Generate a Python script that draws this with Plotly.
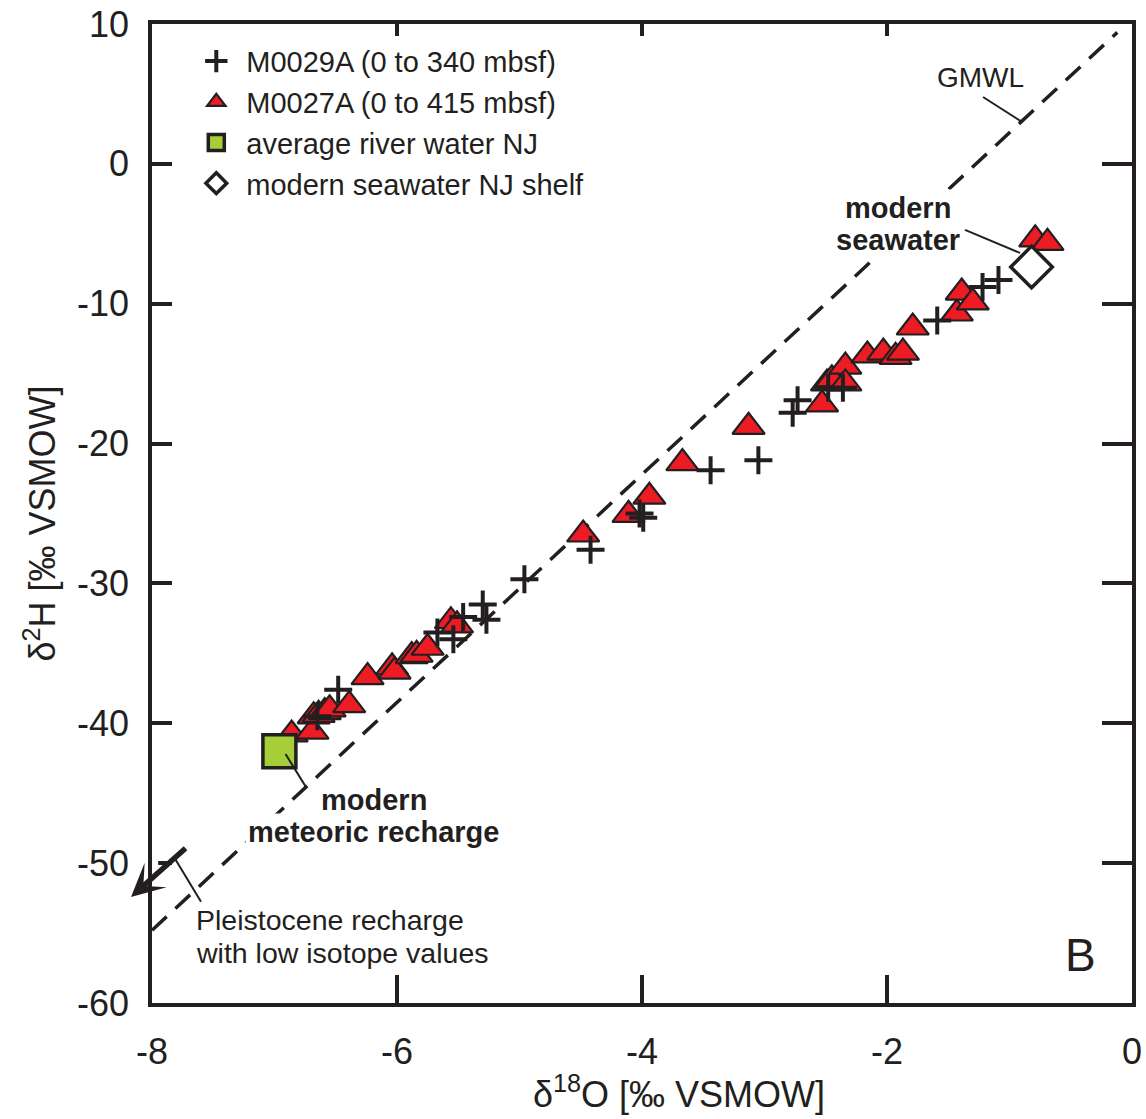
import plotly.graph_objects as go

# --- data -------------------------------------------------------------
# M0029A pore waters (crosses)
m29_d18o = [-6.65, -6.48, -5.67, -5.54, -5.46, -5.30, -5.27, -4.96, -4.42, -4.02,
            -3.99, -3.44, -3.05, -2.77, -2.73, -2.48, -2.36, -1.59, -1.22, -1.09]
m29_d2h = [-39.5, -37.6, -33.5, -34.0, -32.4, -31.5, -32.6, -29.7, -27.6, -25.0,
           -25.3, -21.9, -21.2, -17.8, -16.9, -16.0, -16.0, -11.2, -8.8, -8.3]

# M0027A pore waters (triangles)
m27_d18o = [-6.86, -6.69, -6.68, -6.64, -6.59, -6.55, -6.39, -6.24, -6.04, -6.02,
            -5.88, -5.84, -5.75, -5.56, -5.51, -4.48, -4.11, -3.94, -3.67, -3.13,
            -2.53, -2.49, -2.45, -2.34, -2.34, -2.16, -2.03, -1.93, -1.87, -1.79,
            -1.43, -1.39, -1.30, -0.79, -0.69]
m27_d2h = [-40.8, -40.6, -39.5, -39.4, -39.2, -39.0, -38.7, -36.7, -36.0, -36.3,
           -35.2, -35.1, -34.6, -32.7, -33.0, -26.5, -25.1, -23.8, -21.4, -18.8,
           -17.2, -15.7, -15.4, -14.5, -15.7, -13.7, -13.5, -13.8, -13.5, -11.7,
           -10.7, -9.2, -9.9, -5.4, -5.65]

# end members
river_d18o = [-6.96]
river_d2h = [-42.0]
sea_d18o = [-0.82]
sea_d2h = [-7.37]

# global meteoric water line
gmwl_d18o = [-8.0, -0.12]
gmwl_d2h = [-54.8, 9.4]

x_ticks = [-8, -6, -4, -2, 0]
x_ticktext = ["-8", "-6", "-4", "-2", "0"]
y_ticks = [10, 0, -10, -20, -30, -40, -50, -60]
y_ticktext = ["10", "0", "-10", "-20", "-30", "-40", "-50", "-60"]

# --- styling ----------------------------------------------------------
INK = "#231F20"
FONT = "Liberation Sans, Arial, Helvetica, sans-serif"

fig = go.Figure()

fig.add_trace(go.Scatter(
    x=gmwl_d18o, y=gmwl_d2h, mode="lines",
    line=dict(color=INK, width=3.5, dash="20px,12px"),
    showlegend=False, hoverinfo="skip"))

fig.add_trace(go.Scatter(
    x=m27_d18o, y=m27_d2h, mode="markers", name="M0027A (0 to 415 mbsf)",
    marker=dict(symbol="triangle-up", size=28, color="#ED1C24",
                line=dict(color=INK, width=2.2)),
    legendrank=2))

fig.add_trace(go.Scatter(
    x=m29_d18o, y=m29_d2h, mode="markers", name="M0029A (0 to 340 mbsf)",
    marker=dict(symbol="cross-thin", size=20, color=INK,
                line=dict(color=INK, width=4)),
    legendrank=1))

fig.add_trace(go.Scatter(
    x=river_d18o, y=river_d2h, mode="markers", name="average river water NJ",
    marker=dict(symbol="square", size=33, color="#A6CE39",
                line=dict(color=INK, width=3.5)),
    legendrank=3))

fig.add_trace(go.Scatter(
    x=sea_d18o, y=sea_d2h, mode="markers", name="modern seawater NJ shelf",
    marker=dict(symbol="diamond", size=32, color="white",
                line=dict(color=INK, width=3.5)),
    legendrank=4))

# carrier for the top / right frame axes
fig.add_trace(go.Scatter(x=[None], y=[None], xaxis="x2", yaxis="y2",
                         showlegend=False, hoverinfo="skip"))

axis_common = dict(showline=True, linecolor=INK, linewidth=3.5,
                   ticks="inside", tickcolor=INK, tickwidth=3.5,
                   showgrid=False, zeroline=False, automargin=False)

fig.update_layout(
    width=1146, height=1119,
    margin=dict(l=152, r=14, t=24, b=116, autoexpand=False),
    paper_bgcolor="white", plot_bgcolor="white",
    font=dict(family=FONT, color=INK),
    xaxis=dict(range=[-8, 0], tickvals=x_ticks, ticktext=x_ticktext,
               ticklen=28, ticklabelstandoff=14,
               tickfont=dict(size=36, color=INK), **axis_common),
    xaxis2=dict(range=[-8, 0], overlaying="x", side="top", anchor="y2",
                tickvals=x_ticks, ticklen=12, showticklabels=False,
                **axis_common),
    yaxis=dict(range=[-60, 10], tickvals=y_ticks, ticktext=y_ticktext,
               ticklen=20, ticklabelstandoff=12,
               tickfont=dict(size=36, color=INK), **axis_common),
    yaxis2=dict(range=[-60, 10], overlaying="y", side="right", anchor="x2",
                tickvals=y_ticks, ticklen=30, showticklabels=False,
                **axis_common),
    legend=dict(x=0.035, y=0.988, xanchor="left", yanchor="top",
                bgcolor="rgba(255,255,255,0)", borderwidth=0,
                itemwidth=50,
                font=dict(size=29, family=FONT, color=INK),
                tracegroupgap=0),
    showlegend=True,
)

# axis titles
fig.add_annotation(xref="paper", yref="paper", x=0.538, y=-0.091,
                   text="δ<sup>18</sup>O [‰ VSMOW]", showarrow=False,
                   font=dict(size=36), xanchor="center", yanchor="middle")
fig.add_annotation(xref="paper", yref="paper", x=-0.114, y=0.49,
                   text="δ<sup>2</sup>H [‰ VSMOW]", showarrow=False,
                   textangle=-90, font=dict(size=36),
                   xanchor="center", yanchor="middle")

# leader lines
leaders = [
    ((-1.216, 4.78), (-0.898, 3.0)),     # GMWL
    ((-1.363, -4.72), (-0.914, -6.37)),  # modern seawater
    ((-6.91, -42.2), (-6.74, -44.6)),    # modern meteoric recharge
    ((-7.812, -49.69), (-7.60, -52.76)), # Pleistocene recharge
]
for (x0, y0), (x1, y1) in leaders:
    fig.add_shape(type="line", x0=x0, y0=y0, x1=x1, y1=y1,
                  line=dict(color=INK, width=2), layer="above")

# break in the left frame where the arrow leaves the plot
fig.add_shape(type="rect", x0=-8.06, x1=-7.95, y0=-53.3, y1=-48.8,
              fillcolor="white", line=dict(width=0), layer="above")

def label(x, y, text, size=29, bold=False, anchor="center", bg=None):
    fig.add_annotation(x=x, y=y, text=f"<b>{text}</b>" if bold else text,
                       showarrow=False, xanchor=anchor, yanchor="middle",
                       font=dict(size=size, family=FONT, color=INK),
                       bgcolor=bg, borderpad=2)

label(-1.24, 6.2, "GMWL", size=28)
label(-1.91, -3.15, "modern", bold=True, bg="white")
label(-1.91, -5.44, "seawater", bold=True, bg="white")
label(-6.19, -45.47, "modern", bold=True, bg="white")
label(-6.19, -47.76, "meteoric recharge", bold=True, bg="white")
label(-7.665, -54.05, "Pleistocene recharge", size=28.5, anchor="left")
label(-7.665, -56.4, "with low isotope values", size=28.5, anchor="left")
label(-0.424, -56.55, "B", size=46)

# arrow towards lower isotope values (tip sits just outside the frame)
fig.add_annotation(xref="paper", yref="paper", x=-0.0214, y=0.1083,
                   ax=56, ay=-50, text="",
                   showarrow=True, arrowhead=3, arrowwidth=5.5, arrowsize=1.0,
                   arrowcolor=INK)

fig.write_html("out.html")
